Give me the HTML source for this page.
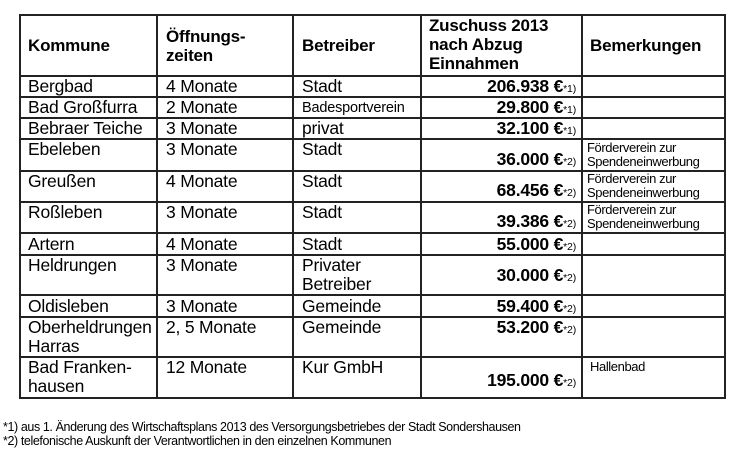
<!DOCTYPE html>
<html><head><meta charset="utf-8"><style>
body{margin:0;width:740px;height:464px;background:#fff;position:relative;overflow:hidden;font-family:"Liberation Sans",Arial,sans-serif;color:#000}
.h,.v{position:absolute;background:#222}
.h{height:2px;left:19px;width:707px}
.v{width:2px;top:14px;height:385px}
.t{position:absolute;font-size:17.5px;line-height:19px;white-space:nowrap;letter-spacing:-0.2px}
.b{font-weight:bold;font-size:17px}
.r{text-align:right;width:140px;font-weight:bold}
.r small{font-size:10.5px;font-weight:normal}
.s{font-size:13px;line-height:14px;letter-spacing:-0.4px}
.f{position:absolute;left:3px;font-size:12.5px;letter-spacing:-0.4px}
</style></head><body>
<div class="h" style="top:14px"></div>
<div class="h" style="top:75px"></div>
<div class="h" style="top:96px"></div>
<div class="h" style="top:117px"></div>
<div class="h" style="top:138px"></div>
<div class="h" style="top:170px"></div>
<div class="h" style="top:201px"></div>
<div class="h" style="top:232px"></div>
<div class="h" style="top:254px"></div>
<div class="h" style="top:294px"></div>
<div class="h" style="top:316px"></div>
<div class="h" style="top:356px"></div>
<div class="h" style="top:397px"></div>
<div class="v" style="left:19px"></div>
<div class="v" style="left:156px"></div>
<div class="v" style="left:292px"></div>
<div class="v" style="left:420px"></div>
<div class="v" style="left:581px"></div>
<div class="v" style="left:724px"></div>

<div class="t b" style="left:28px;top:36px">Kommune</div>
<div class="t b" style="left:166px;top:27px">Öffnungs-<br>zeiten</div>
<div class="t b" style="left:302px;top:36px">Betreiber</div>
<div class="t b" style="left:429px;top:16px">Zuschuss 2013<br>nach Abzug<br>Einnahmen</div>
<div class="t b" style="left:590px;top:36px">Bemerkungen</div>

<div class="t" style="left:28px;top:77px">Bergbad</div>
<div class="t" style="left:28px;top:98px">Bad Großfurra</div>
<div class="t" style="left:28px;top:119px">Bebraer Teiche</div>
<div class="t" style="left:28px;top:140px">Ebeleben</div>
<div class="t" style="left:28px;top:172px">Greußen</div>
<div class="t" style="left:28px;top:203px">Roßleben</div>
<div class="t" style="left:28px;top:235px">Artern</div>
<div class="t" style="left:28px;top:256px">Heldrungen</div>
<div class="t" style="left:28px;top:297px">Oldisleben</div>
<div class="t" style="left:28px;top:318px">Oberheldrungen<br>Harras</div>
<div class="t" style="left:28px;top:358px">Bad Franken-<br>hausen</div>

<div class="t" style="left:166px;top:77px">4 Monate</div>
<div class="t" style="left:166px;top:98px">2 Monate</div>
<div class="t" style="left:166px;top:119px">3 Monate</div>
<div class="t" style="left:166px;top:140px">3 Monate</div>
<div class="t" style="left:166px;top:172px">4 Monate</div>
<div class="t" style="left:166px;top:203px">3 Monate</div>
<div class="t" style="left:166px;top:235px">4 Monate</div>
<div class="t" style="left:166px;top:256px">3 Monate</div>
<div class="t" style="left:166px;top:297px">3 Monate</div>
<div class="t" style="left:166px;top:318px">2, 5 Monate</div>
<div class="t" style="left:166px;top:358px">12 Monate</div>

<div class="t" style="left:302px;top:77px">Stadt</div>
<div class="t" style="left:302px;top:99px;font-size:14.5px">Badesportverein</div>
<div class="t" style="left:302px;top:119px">privat</div>
<div class="t" style="left:302px;top:140px">Stadt</div>
<div class="t" style="left:302px;top:172px">Stadt</div>
<div class="t" style="left:302px;top:203px">Stadt</div>
<div class="t" style="left:302px;top:235px">Stadt</div>
<div class="t" style="left:302px;top:256px">Privater<br>Betreiber</div>
<div class="t" style="left:302px;top:297px">Gemeinde</div>
<div class="t" style="left:302px;top:318px">Gemeinde</div>
<div class="t" style="left:302px;top:358px">Kur GmbH</div>

<div class="t r" style="left:436px;top:77px">206.938 €<small>*1)</small></div>
<div class="t r" style="left:436px;top:98px">29.800 €<small>*1)</small></div>
<div class="t r" style="left:436px;top:119px">32.100 €<small>*1)</small></div>
<div class="t r" style="left:436px;top:150px">36.000 €<small>*2)</small></div>
<div class="t r" style="left:436px;top:181px">68.456 €<small>*2)</small></div>
<div class="t r" style="left:436px;top:212px">39.386 €<small>*2)</small></div>
<div class="t r" style="left:436px;top:235px">55.000 €<small>*2)</small></div>
<div class="t r" style="left:436px;top:266px">30.000 €<small>*2)</small></div>
<div class="t r" style="left:436px;top:297px">59.400 €<small>*2)</small></div>
<div class="t r" style="left:436px;top:318px">53.200 €<small>*2)</small></div>
<div class="t r" style="left:436px;top:371px">195.000 €<small>*2)</small></div>

<div class="t s" style="left:587px;top:141px">Förderverein zur<br>Spendeneinwerbung</div>
<div class="t s" style="left:587px;top:172px">Förderverein zur<br>Spendeneinwerbung</div>
<div class="t s" style="left:587px;top:203px">Förderverein zur<br>Spendeneinwerbung</div>
<div class="t s" style="left:590px;top:360px">Hallenbad</div>

<div class="f" style="top:420px">*1) aus 1. Änderung des Wirtschaftsplans 2013 des Versorgungsbetriebes der Stadt Sondershausen</div>
<div class="f" style="top:434px">*2) telefonische Auskunft der Verantwortlichen in den einzelnen Kommunen</div>
</body></html>
